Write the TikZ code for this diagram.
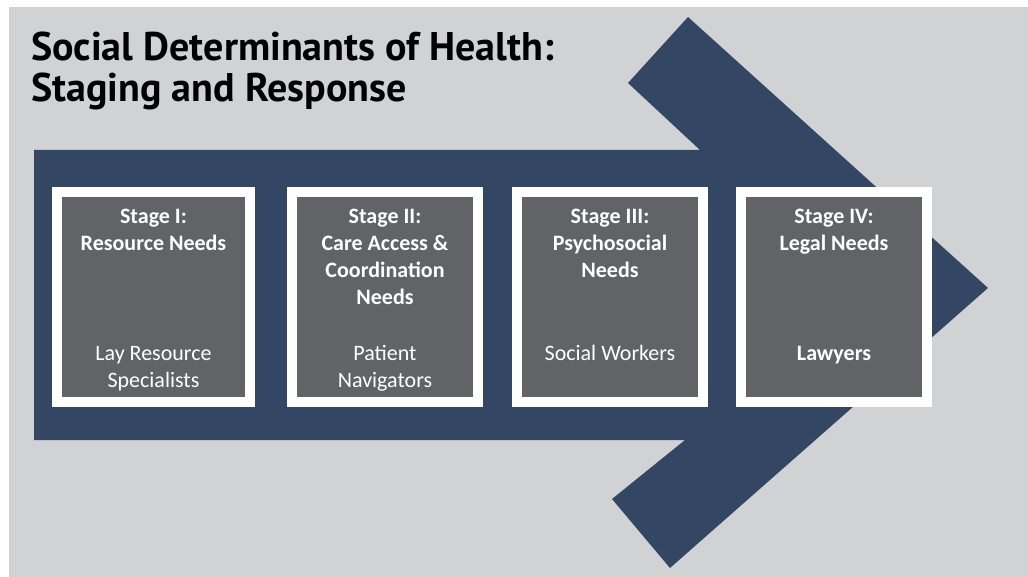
\documentclass[tikz,border=0pt]{standalone}
\usepackage{fontspec}
\setmainfont{Carlito}
\newfontfamily\titlefont{PT Sans}
\definecolor{bgGray}{RGB}{209,210,212}
\definecolor{arrowBlue}{RGB}{51,70,99}
\definecolor{boxGray}{RGB}{98,99,102}
\begin{document}
\begin{tikzpicture}[x=1pt,y=-1pt,
    stagebox/.style={draw=white, line width=10pt, fill=boxGray, minimum height=210pt, inner sep=0pt},
    headtext/.style={anchor=north, align=center, text=white, inner sep=0pt, font=\fontsize{22}{27}\selectfont\bfseries},
    roletext/.style={anchor=north, align=center, text=white, inner sep=0pt, font=\fontsize{22}{27}\selectfont}]
    \useasboundingbox (0,0) rectangle (1028,577);
    \fill[bgGray] (9,7) rectangle (1028,577);
    % big arrow behind the stages
    \fill[arrowBlue] (34,150) -- (700,150) -- (628,83) -- (688,17) -- (988,288)
        -- (670,568) -- (612,499) -- (685,440) -- (34,440) -- cycle;
    \node[anchor=north west, inner sep=0pt, align=left,
        font=\titlefont\fontsize{40}{41}\selectfont\bfseries] (title) at (31,32)
        {\strut Social Determinants of Health:\\Staging and Response};
    % stage boxes
    \node[stagebox, minimum width=193pt] (s1) at (153.5,297) {};
    \node[stagebox, minimum width=186pt] (s2) at (385,297) {};
    \node[stagebox, minimum width=186pt] (s3) at (610,297) {};
    \node[stagebox, minimum width=186pt] (s4) at (834,297) {};
    % headings
    \node[headtext] (h1) at ([yshift=-17pt]s1.north) {\strut Stage I:\\Resource Needs};
    \node[headtext] (h2) at ([yshift=-17pt]s2.north) {\strut Stage II:\\Care Access \&\\Coordination\\Needs};
    \node[headtext] (h3) at ([yshift=-17pt]s3.north) {\strut Stage III:\\Psychosocial\\Needs};
    \node[headtext] (h4) at ([yshift=-17pt]s4.north) {\strut Stage IV:\\Legal Needs};
    % responders
    \node[roletext] (r1) at ([yshift=-154pt]s1.north) {\strut Lay Resource\\Specialists};
    \node[roletext] (r2) at ([yshift=-154pt]s2.north) {\strut Patient\\Navigators};
    \node[roletext] (r3) at ([yshift=-154pt]s3.north) {\strut Social Workers};
    \node[roletext, font=\fontsize{22}{27}\selectfont\bfseries] (r4) at ([yshift=-154pt]s4.north) {\strut Lawyers};
\end{tikzpicture}
\end{document}
